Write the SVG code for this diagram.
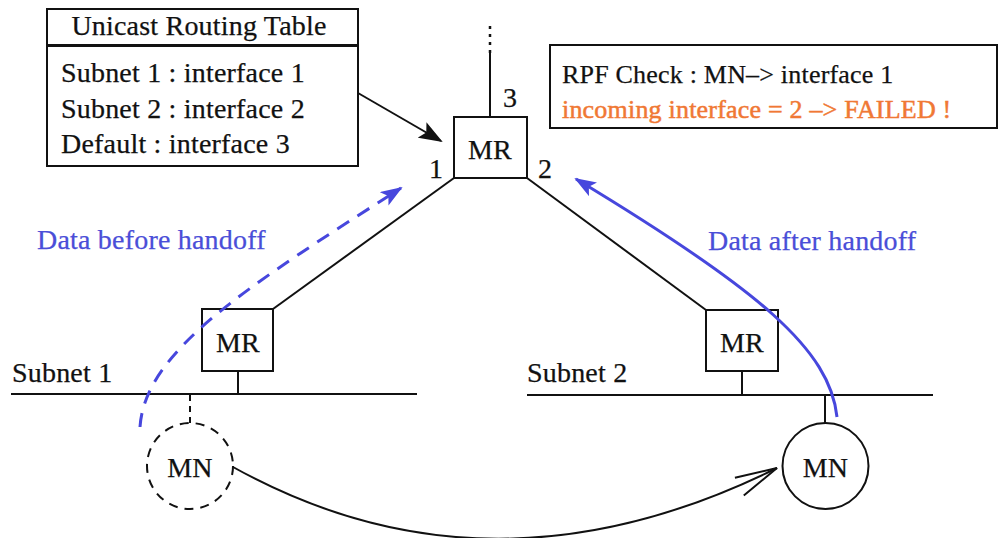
<svg xmlns="http://www.w3.org/2000/svg" width="1001" height="538" viewBox="0 0 1001 538">
<style>
text{font-family:"Liberation Serif","Times New Roman",serif;font-size:28px;letter-spacing:0.2px;fill:#111;stroke:#111;stroke-width:0.25px}
.c{text-anchor:middle}
.blue{fill:#4a4ed8;stroke:#4a4ed8}
.org{fill:#f07834;stroke:#f07834;stroke-width:0.5px}
.rpf{font-size:26px}
.ln{stroke:#111;stroke-width:2;fill:none}
.box{stroke:#111;stroke-width:2;fill:#fff}
.bl{fill:none;stroke:#4747dd;stroke-width:3}
</style>
<defs>
<marker id="ab" markerUnits="userSpaceOnUse" markerWidth="22" markerHeight="16" viewBox="0 0 22 16" refX="20" refY="8" orient="auto">
<path d="M0,0 L22,8 L0,16 L5,8 z" fill="#4747dd"/>
</marker>
<marker id="ak" markerUnits="userSpaceOnUse" markerWidth="24" markerHeight="18" viewBox="0 0 24 18" refX="22" refY="9" orient="auto">
<path d="M0,0 L24,9 L0,18 L5,9 z" fill="#111"/>
</marker>
<marker id="ao" markerUnits="userSpaceOnUse" markerWidth="50" markerHeight="30" viewBox="-46 -15 50 30" refX="0" refY="0" orient="auto">
<path d="M-42,-10 L0,0 L-42,10" fill="none" stroke="#111" stroke-width="2"/>
</marker>
</defs>

<g id="connectors">
<line class="ln" x1="454" y1="178" x2="273" y2="309"/>
<line class="ln" x1="527" y1="178" x2="706" y2="310"/>
<line class="ln" x1="490" y1="117" x2="490" y2="53"/>
<line x1="490" y1="26" x2="490" y2="53" stroke="#111" stroke-width="2.5" stroke-dasharray="3 5"/>
<line class="ln" x1="238" y1="371" x2="238" y2="394"/>
<line class="ln" x1="742" y1="371" x2="742" y2="395"/>
<line class="ln" x1="190" y1="395" x2="190" y2="423" stroke-dasharray="6 5"/>
<line class="ln" x1="825" y1="395" x2="825" y2="423"/>
<line class="ln" x1="358" y1="93" x2="441" y2="141" marker-end="url(#ak)"/>
<path class="ln" d="M233,467 Q490,610 777,468" marker-end="url(#ao)"/>
</g>

<g id="subnet1">
<line class="ln" x1="11" y1="394" x2="417" y2="394" stroke-width="2.5"/>
<text x="12" y="382">Subnet 1</text>
</g>
<g id="subnet2">
<line class="ln" x1="527" y1="395" x2="933" y2="395" stroke-width="2.5"/>
<text x="527" y="382">Subnet 2</text>
</g>

<g id="routing-table">
<rect class="box" x="47" y="9" width="311" height="36"/>
<rect class="box" x="47" y="46" width="311" height="120"/>
<text class="c" x="199" y="35">Unicast Routing Table</text>
<text x="61" y="82">Subnet 1 : interface 1</text>
<text x="61" y="118">Subnet 2 : interface 2</text>
<text x="61" y="153">Default : interface 3</text>
</g>

<g id="rpf-box">
<rect class="box" x="550" y="45" width="447" height="83"/>
<text class="rpf" x="562" y="83">RPF Check : MN–&gt; interface 1</text>
<text class="rpf org" x="562" y="118">incoming interface = 2 –&gt; FAILED !</text>
</g>

<g id="mr-top">
<rect class="box" x="454" y="117" width="73" height="61"/>
<text class="c" x="490" y="159">MR</text>
<text class="c" x="510" y="107">3</text>
<text class="c" x="436" y="178">1</text>
<text class="c" x="545" y="178">2</text>
</g>

<g id="mr-left">
<rect class="box" x="202" y="309" width="71" height="62"/>
<text class="c" x="238" y="352">MR</text>
</g>

<g id="mr-right">
<rect class="box" x="706" y="310" width="72" height="61"/>
<text class="c" x="742" y="352">MR</text>
</g>

<g id="mn-old">
<circle cx="190" cy="466" r="43" fill="none" stroke="#111" stroke-width="2" stroke-dasharray="9 7"/>
<text class="c" x="190" y="477">MN</text>
</g>

<g id="mn-new">
<circle cx="825.5" cy="466" r="43" fill="#fff" stroke="#111" stroke-width="2"/>
<text class="c" x="825.5" y="477">MN</text>
</g>

<g id="data-paths">
<path class="bl" d="M140,427 C145,350 250,285 401,188" stroke-dasharray="14 10" marker-end="url(#ab)"/>
<path class="bl" d="M837,417 C830,350 760,290 576,179" marker-end="url(#ab)"/>
</g>

<g id="labels">
<text class="blue" x="37" y="249">Data before handoff</text>
<text class="blue" x="708" y="250">Data after handoff</text>
</g>
</svg>
